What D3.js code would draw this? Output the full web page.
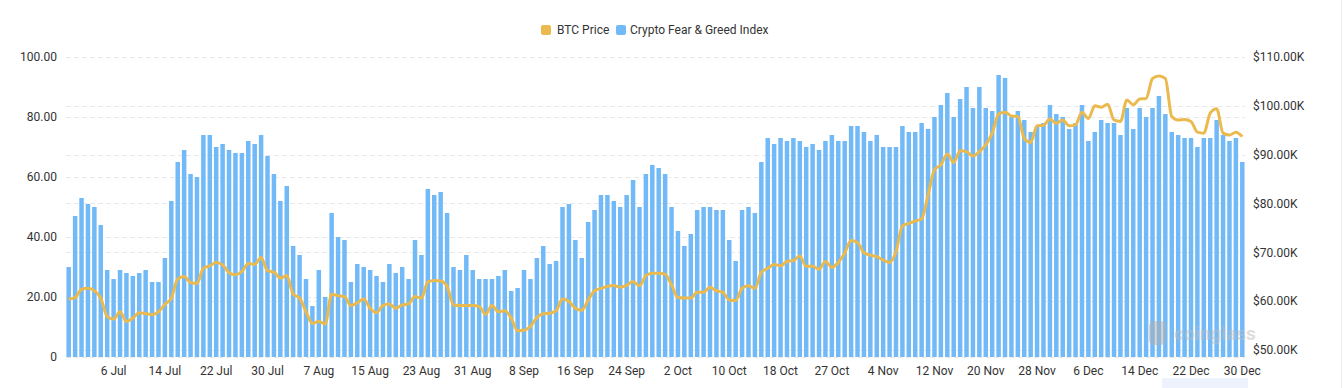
<!DOCTYPE html>
<html>
<head>
<meta charset="utf-8">
<script src="https://cdn.jsdelivr.net/npm/d3@7"></script>
<style>
  body { margin: 0; background: #fff; }
  svg { display: block; font-family: Roboto, "Noto Sans", sans-serif; }
</style>
</head>
<body>
<svg id="chart" width="1344" height="388"></svg>
<script>
// daily categories, one day missing in late Oct (18 Oct -> 27 Oct is 8 steps)
const startDate = "2024-06-29";
const missingDate = "2024-10-22";
const dayCount = 184;

const xTickLabels = ["6 Jul", "14 Jul", "22 Jul", "30 Jul", "7 Aug", "15 Aug", "23 Aug", "31 Aug",
  "8 Sep", "16 Sep", "24 Sep", "2 Oct", "10 Oct", "18 Oct", "27 Oct", "4 Nov", "12 Nov",
  "20 Nov", "28 Nov", "6 Dec", "14 Dec", "22 Dec", "30 Dec"];
const leftTicks = [0, 20, 40, 60, 80, 100];
const rightTicks = [50000, 60000, 70000, 80000, 90000, 100000, 110000];

const fearGreed = [
  30, 47, 53, 51, 50, 44, 29, 26, 29, 28, 27, 28, 29, 25, 25, 33, 52, 65, 69, 61,
  60, 74, 74, 70, 71, 69, 68, 68, 72, 71, 74,
  67, 61, 52, 57, 37, 34, 26, 17, 29, 20, 48, 40, 39, 25, 31, 30, 29, 27, 25, 31,
  28, 30, 26, 39, 34, 56, 54, 55, 48, 30,
  29, 34, 29, 26, 26, 26, 27, 29, 22, 23, 29, 26, 33, 37, 31, 32, 50, 51, 39, 33,
  45, 49, 54, 54, 52, 50, 54, 59, 50, 61, 64,
  63, 61, 50, 42, 37, 41, 49, 50, 50, 49, 49, 39, 32, 49, 50, 48, 65, 73, 71, 73,
  72, 73, 72, 70, 71, 69, 72, 74, 72, 72, 77,
  77, 75, 72, 74, 70, 70, 70, 77, 75, 75, 78, 76, 80, 84, 88, 80, 86, 90, 83, 90,
  83, 82, 94, 93, 80, 82, 79, 75, 77, 78,
  84, 81, 80, 76, 78, 84, 72, 75, 79, 78, 78, 74, 83, 76, 83, 80, 83, 87, 81, 75,
  74, 73, 73, 70, 73, 73, 79, 74, 72, 73, 65
];

// BTC price in thousands of USD
const btcPrice = [
  60.4, 60.7, 62.4, 62.6, 62.1, 60.6, 56.8, 56.3, 57.8, 55.8, 56.5, 57.6, 57.4, 57.2, 57.8, 59.3,
  60.6, 64.5, 65.0, 63.8, 63.6, 66.7, 67.2, 67.9, 67.4, 65.8, 65.4, 66.0, 67.7, 67.5, 68.9,
  66.2, 65.9, 64.7, 65.2, 61.4, 60.6, 57.8, 55.4, 55.8, 55.3, 61.4, 61.1, 60.9, 59.1, 59.6,
  60.4, 58.5, 57.6, 59.1, 59.4, 58.5, 59.2, 59.4, 60.9, 60.6, 63.9, 64.2, 64.1, 63.0, 59.2,
  59.1, 59.1, 59.1, 58.9, 57.3, 59.1, 57.8, 58.0, 56.5, 53.9, 54.0, 54.8, 56.6, 57.4, 57.5,
  58.0, 60.4, 59.9, 58.5, 58.1, 60.2, 62.1, 62.6, 63.0, 63.2, 62.8, 63.2, 64.0, 63.1, 65.2, 65.7,
  65.7, 65.5, 63.3, 60.7, 60.6, 60.6, 61.8, 61.8, 62.8, 62.1, 61.8, 60.2, 60.1, 62.6, 63.1,
  62.6, 65.9, 66.7, 67.5, 67.2, 68.1, 68.3, 69.2, 67.1, 67.1, 66.5, 68.1, 66.9, 67.9, 69.8, 72.4,
  72.0, 69.9, 69.4, 69.1, 68.4, 67.9, 70.1, 75.4, 75.9, 76.4, 76.8, 81.7, 86.9, 87.9, 90.1,
  88.4, 90.8, 90.6, 89.7, 90.6, 92.0, 94.4, 98.3, 98.7, 97.9, 97.8, 93.3, 92.5, 95.9, 96.0,
  97.3, 96.4, 97.1, 95.9, 96.1, 98.7, 97.4, 100.0, 99.7, 100.3, 97.1, 96.8, 101.2, 100.2, 101.4,
  101.5, 105.6, 106.1, 105.6, 97.8, 97.1, 97.2, 96.8, 94.6, 94.4, 98.5, 99.4, 94.4, 94.0, 94.6, 93.7
];

const categories = [];
let cur = new Date(startDate + "T00:00:00");
while (categories.length < dayCount) {
  const key = d3.timeFormat("%Y-%m-%d")(cur);
  if (key !== missingDate) categories.push(key);
  cur = d3.timeDay.offset(cur, 1);
}
const labelOf = d => d3.timeFormat("%-d %b")(new Date(d + "T00:00:00"));

const svg = d3.select("#chart");
const plotTop = 57, plotBottom = 357;

const x = d3.scaleBand().domain(categories).range([65.5, 1245.5])
  .paddingInner(0.3).paddingOuter(0.15);
const yL = d3.scaleLinear().domain([0, 100]).range([plotBottom, plotTop]);
const yR = d3.scaleLinear().domain([50000, 110000]).range([349.8, plotTop]);

// grid lines (both axes)
const grid = svg.append("g");
leftTicks.forEach(t => {
  grid.append("line").attr("x1", 66).attr("x2", 1245)
    .attr("y1", yL(t) + 0.5).attr("y2", yL(t) + 0.5)
    .attr("stroke", "#e9e9e9").attr("stroke-dasharray", "5,3");
});
rightTicks.forEach(t => {
  grid.append("line").attr("x1", 66).attr("x2", 1245)
    .attr("y1", Math.round(yR(t)) + 0.5).attr("y2", Math.round(yR(t)) + 0.5)
    .attr("stroke", "#e9e9e9").attr("stroke-dasharray", "5,3");
});

// bars
svg.append("g").selectAll("rect")
  .data(fearGreed)
  .enter().append("rect")
  .attr("x", (d, i) => x(categories[i]))
  .attr("width", x.bandwidth())
  .attr("y", d => yL(d))
  .attr("height", d => plotBottom - yL(d))
  .attr("fill", "#72baf7");

// btc line
const line = d3.line()
  .x((d, i) => x(categories[i]) + x.bandwidth() / 2)
  .y(d => yR(d * 1000))
  .curve(d3.curveMonotoneX);

svg.append("path")
  .datum(btcPrice)
  .attr("d", line)
  .attr("fill", "none")
  .attr("stroke", "#ebba4e")
  .attr("stroke-width", 3)
  .attr("stroke-linejoin", "round");

// axes
const axL = svg.append("g").attr("transform", "translate(64,0)")
  .call(d3.axisLeft(yL).tickValues(leftTicks).tickSize(0).tickPadding(7)
    .tickFormat(d => d === 0 ? "0" : d.toFixed(2)));
const axR = svg.append("g").attr("transform", "translate(1246,0)")
  .call(d3.axisRight(yR).tickValues(rightTicks).tickSize(0).tickPadding(7)
    .tickFormat(d => "$" + (d / 1000).toFixed(2) + "K"));
const tickCats = categories.filter(c => xTickLabels.includes(labelOf(c)));
const axB = svg.append("g").attr("transform", `translate(0,${plotBottom})`)
  .call(d3.axisBottom(x).tickValues(tickCats).tickSize(0).tickPadding(9)
    .tickFormat(labelOf));

[axL, axR, axB].forEach(a => {
  a.select(".domain").remove();
  a.selectAll("text").attr("fill", "#333").attr("font-size", 12)
    .attr("font-family", "Roboto, sans-serif");
});

// legend
const legend = svg.append("g");
legend.append("rect").attr("x", 541).attr("y", 25).attr("width", 10).attr("height", 10)
  .attr("rx", 2).attr("fill", "#ebba4e");
legend.append("text").attr("x", 557).attr("y", 30).attr("dy", "0.35em")
  .attr("font-size", 12).attr("fill", "#333").text("BTC Price");
legend.append("rect").attr("x", 616).attr("y", 25).attr("width", 10).attr("height", 10)
  .attr("rx", 2).attr("fill", "#72baf7");
legend.append("text").attr("x", 630).attr("y", 30).attr("dy", "0.35em")
  .attr("font-size", 12).attr("fill", "#333").text("Crypto Fear & Greed Index");

// watermark
const wm = svg.append("g").attr("opacity", 0.5);
wm.append("rect").attr("x", 1149).attr("y", 321).attr("width", 17).attr("height", 24)
  .attr("rx", 5).attr("fill", "#b0b0b0");
wm.append("text").attr("x", 1174).attr("y", 340).attr("font-size", 19)
  .attr("font-weight", "bold").attr("fill", "#bdbdbd").text("coinglass");

// faint bits at the edges
svg.append("rect").attr("x", 1162).attr("y", 378).attr("width", 86).attr("height", 10)
  .attr("fill", "#eef2fd");
svg.append("line").attr("x1", 1341.5).attr("x2", 1341.5).attr("y1", 0).attr("y2", 388)
  .attr("stroke", "#eeeeee");
</script>
</body>
</html>
